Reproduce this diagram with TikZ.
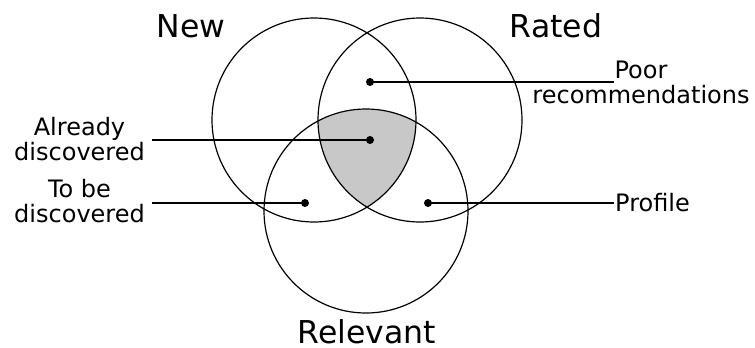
\documentclass[tikz,border=0pt]{standalone}
\usepackage{fontspec}
\setmainfont{DejaVu Sans}
\usepackage{xcolor}
\usetikzlibrary{positioning}
\definecolor{overlap}{RGB}{200,200,200}
\tikzstyle{set} = [draw=black, line width=1.2pt]
\tikzstyle{setname} = [font=\fontsize{31.5}{36}\selectfont, inner sep=0pt, anchor=base]
\tikzstyle{tag} = [font=\fontsize{24}{25}\selectfont, align=center, inner sep=1pt]
\tikzstyle{dot} = [circle, fill=black, inner sep=0pt, minimum size=8pt]
\tikzstyle{pointer} = [line width=2pt]

\begin{document}
\begin{tikzpicture}[x=1pt, y=-1pt]
    \useasboundingbox (0,0) rectangle (755,348);
    % set centres
    \coordinate (cnew) at (314,120);
    \coordinate (crated) at (420,120);
    \coordinate (crel) at (366,211);
    % shaded part shared by all three
    \begin{scope}
        \clip (cnew) circle [radius=102pt];
        \clip (crated) circle [radius=102pt];
        \fill [overlap] (crel) circle [radius=102pt];
    \end{scope}
    \draw [set] (cnew) circle [radius=102pt];
    \draw [set] (crated) circle [radius=102pt];
    \draw [set] (crel) circle [radius=102pt];
    \node [setname] (new) at (191,37) {New};
    \node [setname] (rated) at (556,37) {Rated};
    \node [setname] (relevant) at (367,343.5) {Relevant};
    % dots
    \node [dot] (poor_dot) at (370,82) {};
    \node [dot] (already_dot) at (370,140) {};
    \node [dot] (tobe_dot) at (305,203) {};
    \node [dot] (profile_dot) at (428,203) {};
    % labels
    \node [tag] (poor) at (641,82) {Poor\\recommendations};
    \node [tag, anchor=west] (profile) at (614,203) {Profile};
    \node [tag] (already) at (79.5,139) {Already\\discovered};
    \node [tag] (tobe) at (79.5,201) {To be\\discovered};
    \coordinate (poor_end) at (614,82);
    \draw [pointer] (poor_dot.center) -- (poor_end);
    \draw [pointer] (profile_dot.center) -- (profile.west);
    \draw [pointer] (already_dot.center) -- ([xshift=6pt]already.east |- already_dot);
    \draw [pointer] (tobe_dot.center) -- ([xshift=6pt]tobe.east |- tobe_dot);
\end{tikzpicture}
\end{document}
